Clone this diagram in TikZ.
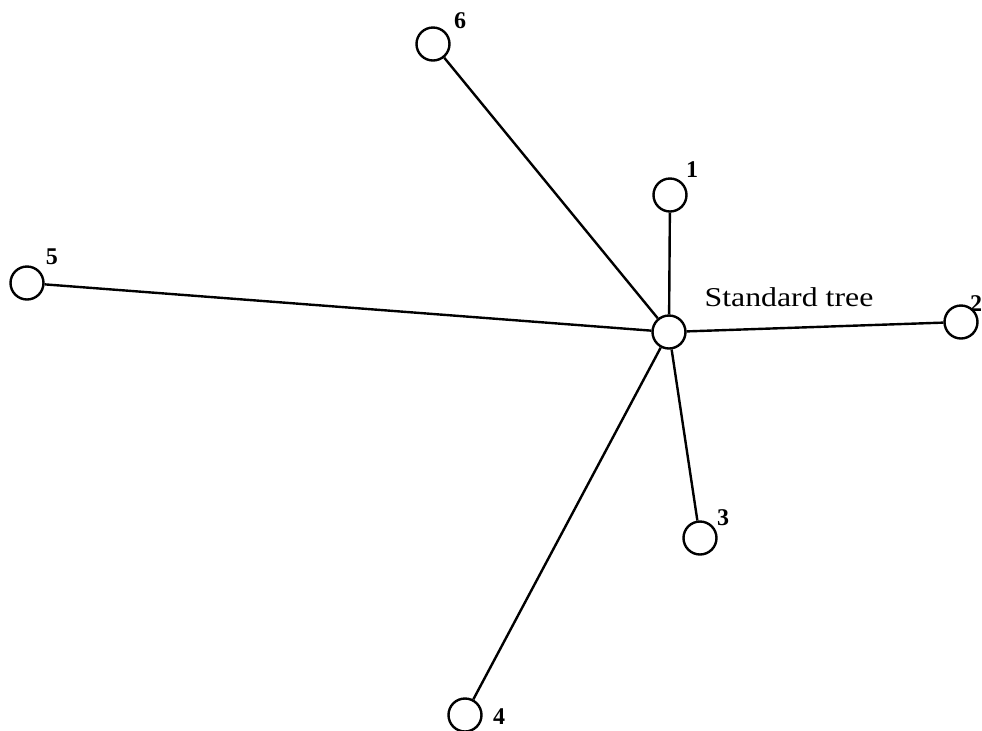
\documentclass[tikz,border=0pt]{standalone}
\usepackage{fontspec}
\setmainfont{Liberation Serif}
\begin{document}
\begin{tikzpicture}[x=0.5pt,y=-0.5pt,
  vert/.style={circle,draw,line width=1.2pt,minimum size=16.5pt,inner sep=0pt},
  lab/.style={font=\fontsize{12}{12}\selectfont\bfseries,inner sep=0pt},
  edge/.style={line width=1.2pt}]
\useasboundingbox (0,0) rectangle (982,730);
\node[vert] (c) at (669,332) {};
\node[vert] (n1) at (670,195) {};
\node[vert] (n2) at (961,322) {};
\node[vert] (n3) at (700,538) {};
\node[vert] (n4) at (465,715) {};
\node[vert] (n5) at (27,283) {};
\node[vert] (n6) at (433,44) {};
\node[lab] (l1) at (692,170) {1};
\node[lab] (l2) at (976,304) {2};
\node[lab] (l3) at (723,518) {3};
\node[lab] (l4) at (499,717) {4};
\node[lab] (l5) at (52,257) {5};
\node[lab] (l6) at (460,21) {6};
\node[font=\fontsize{13.6}{14}\selectfont,xscale=1.17,transform shape,inner sep=0pt] (st) at (789,297) {Standard tree};
\draw[edge] (c) -- (n1);
\draw[edge] (c) -- (n2);
\draw[edge] (c) -- (n3);
\draw[edge] (c) -- (n4);
\draw[edge] (c) -- (n5);
\draw[edge] (c) -- (n6);
\end{tikzpicture}
\end{document}
